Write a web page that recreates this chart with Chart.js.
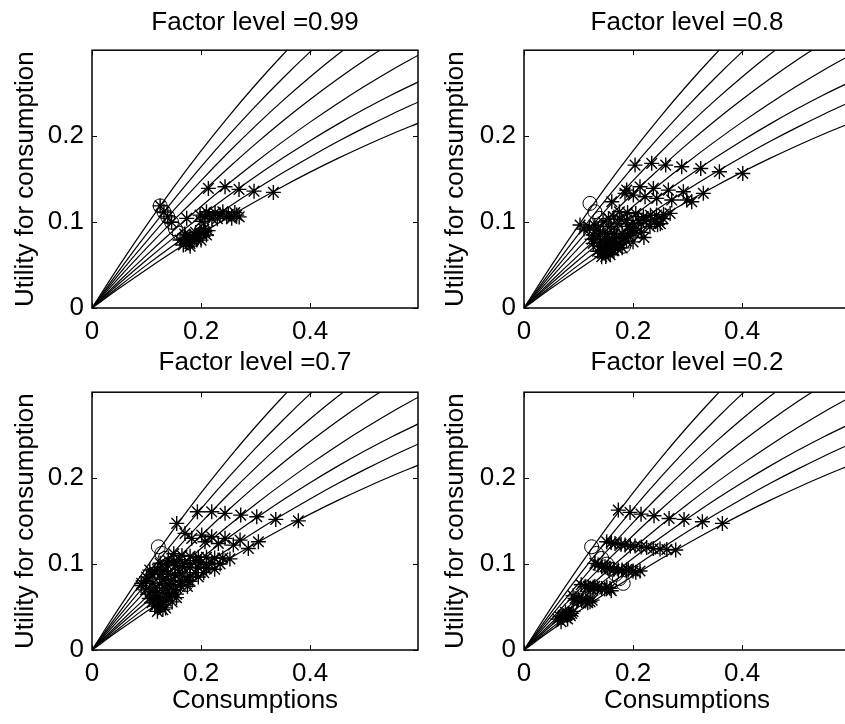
<!DOCTYPE html>
<html>
<head>
<meta charset="utf-8">
<script src="https://cdn.jsdelivr.net/npm/chart.js@4.4.1/dist/chart.umd.min.js"></script>
<style>
  html, body { margin: 0; padding: 0; background: #fff; width: 845px; height: 724px; overflow: hidden; position: relative; }
  canvas { position: absolute; }
</style>
</head>
<body>
<canvas id="p1" width="430" height="362" style="left:0px;top:0px"></canvas>
<canvas id="p2" width="430" height="362" style="left:430px;top:0px"></canvas>
<canvas id="p3" width="430" height="394" style="left:0px;top:330px"></canvas>
<canvas id="p4" width="430" height="394" style="left:430px;top:330px"></canvas>
<script>
// tick values
const xTicks = [0, 0.2, 0.4];
const yTicks = [0, 0.1, 0.2];

// consumption grid shared by the 8 utility curves
const consGrid = [0, 0.05, 0.1, 0.15, 0.2, 0.25, 0.3, 0.35, 0.4, 0.45, 0.5, 0.55, 0.6];
const curve1 = [0, 0.0493, 0.0962, 0.1407, 0.1828, 0.2225, 0.2598, 0.2947, 0.3272];
const curve2 = [0, 0.0439, 0.0859, 0.1260, 0.1642, 0.2005, 0.2349, 0.2674, 0.2980, 0.3267];
const curve3 = [0, 0.0397, 0.0776, 0.1138, 0.1483, 0.1810, 0.2120, 0.2413, 0.2688, 0.2946, 0.3186];
const curve4 = [0, 0.0356, 0.0697, 0.1022, 0.1333, 0.1629, 0.1910, 0.2176, 0.2426, 0.2662, 0.2883, 0.3089];
const curve5 = [0, 0.0314, 0.0615, 0.0904, 0.1181, 0.1445, 0.1697, 0.1936, 0.2163, 0.2378, 0.2580, 0.2770, 0.2947];
const curve6 = [0, 0.0285, 0.0558, 0.0819, 0.1068, 0.1306, 0.1531, 0.1745, 0.1947, 0.2137, 0.2315, 0.2482, 0.2636];
const curve7 = [0, 0.0254, 0.0499, 0.0733, 0.0958, 0.1173, 0.1378, 0.1573, 0.1758, 0.1934, 0.2099, 0.2255, 0.2401];
const curve8 = [0, 0.0229, 0.0449, 0.0660, 0.0862, 0.1056, 0.1240, 0.1415, 0.1581, 0.1738, 0.1886, 0.2025, 0.2155];
const curves = [curve1, curve2, curve3, curve4, curve5, curve6, curve7, curve8];

// Factor level = 0.99
const p1StarC = [0.2135, 0.244, 0.2697, 0.2972, 0.3327,
  0.1737, 0.1982, 0.2073, 0.2257, 0.2349, 0.2471, 0.2563, 0.2655,
  0.2, 0.21, 0.22, 0.24, 0.25, 0.262, 0.27, 0.215, 0.23,
  0.1615, 0.1706, 0.1798, 0.189, 0.1982, 0.2073, 0.1798, 0.1675, 0.1921,
  0.17, 0.185, 0.195, 0.205, 0.213, 0.18, 0.175, 0.19, 0.2, 0.21,
  0.125, 0.132, 0.139, 0.146];
const p1StarU = [0.1392, 0.1411, 0.138, 0.136, 0.1345,
  0.1043, 0.1081, 0.1062, 0.1108, 0.1081, 0.1062, 0.1043, 0.1081,
  0.101, 0.112, 0.104, 0.112, 0.109, 0.111, 0.106, 0.108, 0.104,
  0.0791, 0.081, 0.0829, 0.0849, 0.0869, 0.0887, 0.0752, 0.0733, 0.0791,
  0.086, 0.078, 0.082, 0.092, 0.09, 0.072, 0.079, 0.088, 0.079, 0.085,
  0.1188, 0.1118, 0.1060, 0.0997];
const p1CircC = [0.125, 0.132, 0.139, 0.146, 0.153, 0.160, 0.168, 0.176];
const p1CircU = [0.1188, 0.1118, 0.1060, 0.0997, 0.0921, 0.0870, 0.0815, 0.0766];

// Factor level = 0.8
const p2StarC = [0.2037, 0.2343, 0.26, 0.2893, 0.3242, 0.3584, 0.4013,
  0.1884, 0.2128, 0.2373, 0.2648, 0.2923, 0.3290,
  0.1853, 0.2006, 0.2220, 0.2435, 0.2710, 0.2985, 0.3077,
  0.1028, 0.161,
  0.175, 0.19, 0.205, 0.219, 0.232, 0.243, 0.256, 0.268,
  0.136, 0.158, 0.172, 0.188, 0.20, 0.215, 0.231, 0.245,
  0.127, 0.140, 0.153, 0.166, 0.180, 0.2037, 0.192, 0.215,
  0.127, 0.138, 0.150, 0.162, 0.176, 0.188,
  0.135, 0.145, 0.152, 0.162, 0.172,
  0.1425, 0.150, 0.158,
  0.11, 0.12, 0.13, 0.145, 0.155, 0.165, 0.178, 0.19, 0.2, 0.21, 0.225, 0.24, 0.255,
  0.148, 0.16, 0.17, 0.183, 0.195, 0.125, 0.14, 0.155, 0.168, 0.18,
  0.145, 0.155, 0.165, 0.2, 0.22, 0.25];
const p2StarU = [0.1663, 0.1683, 0.1663, 0.1643, 0.1624, 0.1585, 0.1566,
  0.1372, 0.1411, 0.1392, 0.1372, 0.1353, 0.1334,
  0.1334, 0.1314, 0.1295, 0.1276, 0.1256, 0.1256, 0.1236,
  0.0965, 0.1236,
  0.112, 0.111, 0.110, 0.1062, 0.108, 0.1081, 0.109, 0.1101,
  0.0907, 0.0946, 0.098, 0.1023, 0.099, 0.098, 0.0946, 0.097,
  0.085, 0.087, 0.086, 0.086, 0.087, 0.0868, 0.085, 0.088,
  0.0752, 0.076, 0.076, 0.077, 0.0752, 0.078,
  0.066, 0.067, 0.0655, 0.068, 0.069,
  0.0597, 0.060, 0.062,
  0.092, 0.094, 0.096, 0.1, 0.104, 0.106, 0.103, 0.095, 0.092, 0.102, 0.103, 0.101, 0.104,
  0.08, 0.081, 0.082, 0.081, 0.09, 0.08, 0.072, 0.071, 0.073, 0.07,
  0.064, 0.064, 0.067, 0.077, 0.082, 0.098];
const p2CircC = [0.121, 0.130, 0.139, 0.149, 0.157, 0.165, 0.174, 0.183];
const p2CircU = [0.1217, 0.112, 0.1043, 0.0965, 0.090, 0.084, 0.078, 0.072];

// Factor level = 0.7
const p3StarC = [0.1554, 0.1933, 0.2196, 0.2440, 0.2728, 0.3022, 0.3371, 0.3785,
  0.1706, 0.1829, 0.2013, 0.2196, 0.2440, 0.2716, 0.3052, 0.2868, 0.2593, 0.2318, 0.2073,
  0.106, 0.0912,
  0.150, 0.165, 0.180, 0.195, 0.210, 0.225, 0.240, 0.253,
  0.125, 0.138, 0.152, 0.166, 0.180, 0.195, 0.210, 0.225,
  0.115, 0.127, 0.140, 0.153, 0.166, 0.180, 0.195,
  0.100, 0.112, 0.124, 0.136, 0.149, 0.162, 0.175,
  0.098, 0.108, 0.119, 0.130, 0.142, 0.155,
  0.105, 0.115, 0.125, 0.136, 0.147,
  0.115, 0.125, 0.135,
  0.09, 0.1, 0.11, 0.12, 0.13, 0.14, 0.15, 0.16, 0.17, 0.18, 0.19, 0.2, 0.21, 0.22, 0.235,
  0.105, 0.115, 0.13, 0.145, 0.16, 0.175, 0.19, 0.205,
  0.12, 0.135, 0.15, 0.165, 0.18, 0.11, 0.125, 0.14, 0.155, 0.12, 0.13];
const p3StarU = [0.1473, 0.1608, 0.1608, 0.159, 0.157, 0.155, 0.152, 0.1503,
  0.1357, 0.1299, 0.1337, 0.1318, 0.1299, 0.1279, 0.1259, 0.1182, 0.1221, 0.124, 0.1259,
  0.093, 0.0775,
  0.112, 0.110, 0.109, 0.108, 0.108, 0.107, 0.107, 0.106,
  0.101, 0.099, 0.098, 0.097, 0.096, 0.096, 0.095, 0.094,
  0.091, 0.089, 0.088, 0.087, 0.086, 0.086, 0.085,
  0.080, 0.078, 0.077, 0.077, 0.076, 0.075, 0.074,
  0.070, 0.068, 0.067, 0.067, 0.066, 0.065,
  0.060, 0.059, 0.058, 0.057, 0.056,
  0.051, 0.050, 0.049,
  0.075, 0.085, 0.088, 0.094, 0.092, 0.104, 0.103, 0.105, 0.101, 0.1, 0.104, 0.102, 0.1, 0.101, 0.1,
  0.065, 0.072, 0.082, 0.081, 0.09, 0.081, 0.09, 0.09,
  0.062, 0.072, 0.07, 0.079, 0.08, 0.055, 0.053, 0.062, 0.061, 0.045, 0.047];
const p3CircC = [0.1217, 0.128, 0.134, 0.141, 0.148, 0.156, 0.164, 0.172];
const p3CircU = [0.1201, 0.1124, 0.1066, 0.100, 0.094, 0.088, 0.082, 0.076];

// Factor level = 0.2
const p4StarC = [0.173, 0.1945, 0.2147, 0.2385, 0.2661, 0.2936, 0.3272, 0.3639,
  0.1517, 0.167, 0.1853, 0.2037, 0.2251, 0.2495, 0.2783,
  0.16, 0.178, 0.195, 0.215, 0.237, 0.262,
  0.130, 0.1426, 0.1578, 0.173, 0.1914, 0.2128, 0.1486, 0.1884,
  0.136, 0.153, 0.165, 0.18, 0.2, 0.205,
  0.112, 0.127, 0.1425, 0.1578, 0.118, 0.135,
  0.105, 0.122, 0.13, 0.148, 0.152, 0.16,
  0.0936, 0.1058, 0.1211, 0.100, 0.113,
  0.09, 0.097, 0.108, 0.117, 0.125,
  0.066, 0.078, 0.0875, 0.072, 0.082,
  0.062, 0.07, 0.076, 0.085, 0.09, 0.068, 0.08];
const p4StarU = [0.1628, 0.1601, 0.1581, 0.1562, 0.1531, 0.152, 0.1492, 0.1473,
  0.1259, 0.124, 0.1221, 0.1209, 0.1194, 0.1174, 0.1163,
  0.125, 0.123, 0.121, 0.12, 0.118, 0.117,
  0.1008, 0.0969, 0.095, 0.093, 0.093, 0.092, 0.0969, 0.0935,
  0.099, 0.096, 0.094, 0.093, 0.092, 0.0905,
  0.0736, 0.0729, 0.0717, 0.0717, 0.074, 0.072,
  0.076, 0.072, 0.074, 0.071, 0.073, 0.069,
  0.0601, 0.0573, 0.0562, 0.059, 0.057,
  0.063, 0.058, 0.06, 0.055, 0.058,
  0.0388, 0.0407, 0.0426, 0.040, 0.042,
  0.036, 0.038, 0.044, 0.04, 0.045, 0.033, 0.036];
const p4CircC = [0.124, 0.133, 0.1425, 0.152, 0.160, 0.168, 0.175, 0.182];
const p4CircU = [0.1201, 0.1124, 0.1066, 0.100, 0.094, 0.088, 0.083, 0.0775];

const FONT = { family: "'Liberation Sans', Arial, sans-serif", size: 26 };
Chart.defaults.font.family = FONT.family;
Chart.defaults.color = '#000';

const toPoints = (xs, ys) => ys.map((v, i) => ({ x: xs[i], y: v }));

// box + inward ticks like the matlab axes
const frameTicks = {
  id: 'frameTicks',
  afterDatasetsDraw(chart) {
    const { ctx, chartArea: a, scales } = chart;
    const len = 5;
    ctx.save();
    ctx.strokeStyle = '#000';
    ctx.lineWidth = 1;
    ctx.beginPath();
    xTicks.forEach(v => {
      const px = Math.round(scales.x.getPixelForValue(v)) + 0.5;
      ctx.moveTo(px, a.bottom); ctx.lineTo(px, a.bottom - len);
      ctx.moveTo(px, a.top); ctx.lineTo(px, a.top + len);
    });
    yTicks.forEach(v => {
      const py = Math.round(scales.y.getPixelForValue(v)) + 0.5;
      ctx.moveTo(a.left, py); ctx.lineTo(a.left + len, py);
      ctx.moveTo(a.right, py); ctx.lineTo(a.right - len, py);
    });
    ctx.stroke();
    ctx.lineWidth = 1.5;
    ctx.strokeRect(a.left, a.top, a.right - a.left, a.bottom - a.top);
    ctx.restore();
  }
};

function makePanel(id, level, starC, starU, circC, circU, opt) {
  const datasets = curves.map(c => ({
    type: 'line',
    data: toPoints(consGrid, c),
    borderColor: '#000',
    borderWidth: 1.2,
    pointRadius: 0,
    cubicInterpolationMode: 'monotone',
    fill: false,
  }));
  datasets.push({
    data: toPoints(starC, starU),
    pointStyle: 'star',
    pointRadius: 7.5,
    borderColor: '#000',
    borderWidth: 1.4,
  });
  datasets.push({
    data: toPoints(circC, circU),
    pointStyle: 'circle',
    pointRadius: 7,
    borderColor: '#000',
    backgroundColor: 'rgba(0,0,0,0)',
    borderWidth: 1,
  });

  return new Chart(document.getElementById(id), {
    type: 'scatter',
    data: { datasets },
    options: {
      responsive: false,
      animation: false,
      events: [],
      layout: { padding: { left: 0, right: opt.padRight, top: 0, bottom: 0 } },
      plugins: {
        legend: { display: false },
        tooltip: { enabled: false },
        title: {
          display: true,
          fullSize: false,
          text: 'Factor level =' + level,
          font: { size: FONT.size, weight: 'normal' },
          color: '#000',
          padding: { top: opt.titleTop, bottom: opt.titleBottom },
        },
      },
      scales: {
        x: {
          type: 'linear',
          min: 0,
          max: 0.598,
          grid: { display: false, drawTicks: false },
          border: { display: false },
          afterBuildTicks: s => { s.ticks = xTicks.map(v => ({ value: v })); },
          afterFit: s => { s.height = opt.xHeight; },
          ticks: { font: { size: FONT.size }, padding: 8, maxRotation: 0, callback: v => String(v) },
          title: {
            display: opt.xTitle,
            text: 'Consumptions',
            font: { size: FONT.size },
            padding: { top: 0, bottom: 8 },
          },
        },
        y: {
          type: 'linear',
          min: 0,
          max: 0.3,
          grid: { display: false, drawTicks: false },
          border: { display: false },
          afterBuildTicks: s => { s.ticks = yTicks.map(v => ({ value: v })); },
          afterFit: s => { s.width = opt.yWidth; },
          ticks: { font: { size: FONT.size }, padding: 8, callback: v => String(v) },
          title: {
            display: true,
            text: 'Utility for consumption',
            font: { size: FONT.size },
            padding: { top: 10, bottom: 0 },
          },
        },
      },
    },
    plugins: [frameTicks],
  });
}

makePanel('p1', '0.99', p1StarC, p1StarU, p1CircC, p1CircU,
  { padRight: 12, titleTop: 7, titleBottom: 12, xHeight: 54, yWidth: 92, xTitle: false });
makePanel('p2', '0.8', p2StarC, p2StarU, p2CircC, p2CircU,
  { padRight: 10, titleTop: 7, titleBottom: 12, xHeight: 54, yWidth: 94, xTitle: false });
makePanel('p3', '0.7', p3StarC, p3StarU, p3CircC, p3CircU,
  { padRight: 12, titleTop: 17, titleBottom: 14, xHeight: 74, yWidth: 92, xTitle: true });
makePanel('p4', '0.2', p4StarC, p4StarU, p4CircC, p4CircU,
  { padRight: 10, titleTop: 17, titleBottom: 14, xHeight: 74, yWidth: 94, xTitle: true });
</script>
</body>
</html>
